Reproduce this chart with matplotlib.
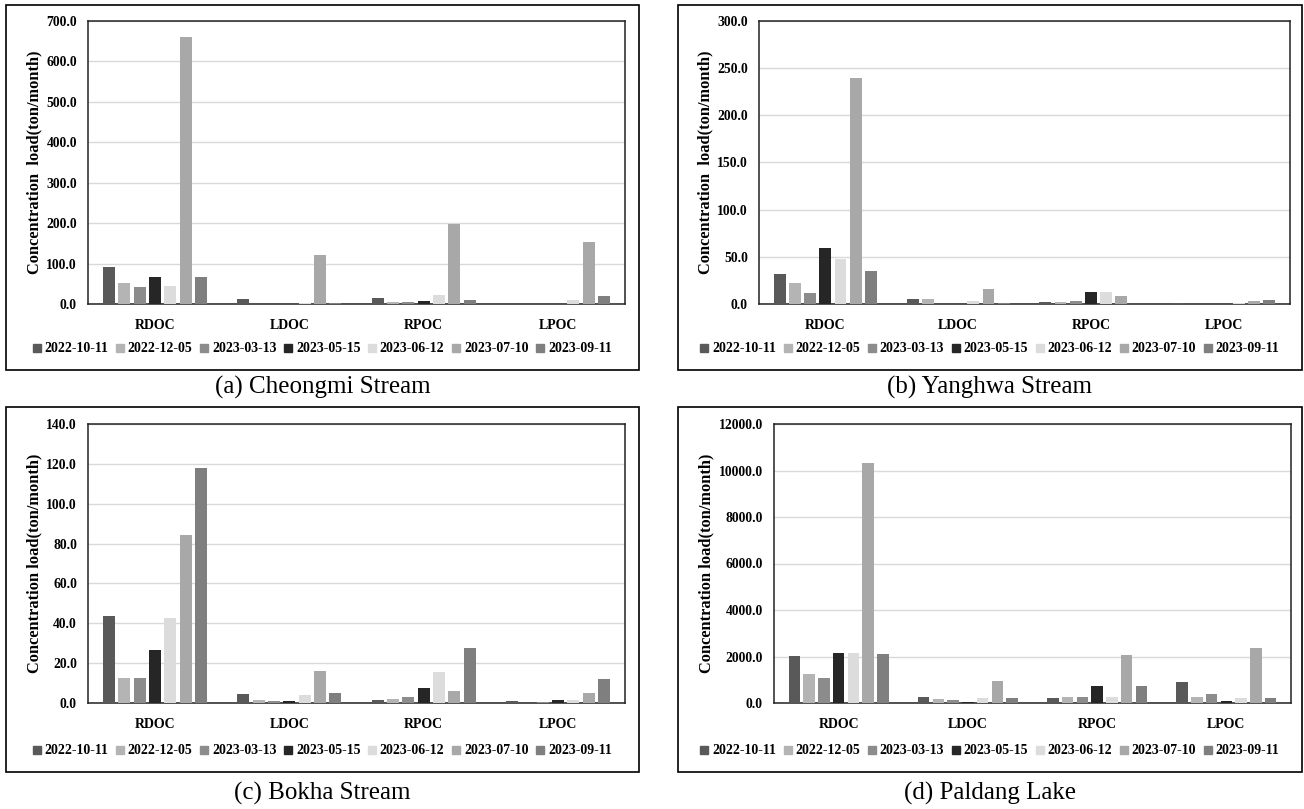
import numpy as np
import matplotlib
matplotlib.use("Agg")
import matplotlib.pyplot as plt
from matplotlib.patches import Rectangle
from matplotlib.lines import Line2D

plt.rcParams['font.family'] = ['Liberation Serif', 'DejaVu Serif']

W, H = 1304, 809

categories = ['RDOC', 'LDOC', 'RPOC', 'LPOC']
dates = ['2022-10-11', '2022-12-05', '2023-03-13', '2023-05-15',
         '2023-06-12', '2023-07-10', '2023-09-11']
colors = ['#595959', '#b4b4b4', '#8c8c8c', '#262626', '#dcdcdc', '#a8a8a8', '#7f7f7f']

# values[category][date]
cheongmi = [[92, 52, 42, 66, 45, 660, 67],
            [13, 0, 0, 0, 2, 122, 3],
            [16, 6, 5, 8, 23, 198, 11],
            [0, 0, 0, 0, 10, 153, 21]]
yanghwa = [[32, 22, 12, 59, 48, 240, 35],
           [5.5, 5.5, 0.5, 0.5, 3, 16, 1],
           [2, 2, 3, 12.5, 13, 9, 0.5],
           [1, 0.3, 0.3, 0.3, 1.5, 3, 4]]
bokha = [[43.5, 12.5, 12.5, 26.5, 42.5, 84.5, 118],
         [4.5, 1.5, 0.8, 1.2, 4.2, 16.2, 5],
         [1.5, 2, 2.8, 7.5, 15.5, 6, 27.5],
         [1.2, 0.2, 0.6, 1.5, 1.5, 5.2, 12.2]]
paldang = [[2030, 1250, 1070, 2130, 2150, 10330, 2100],
           [270, 190, 130, 50, 230, 950, 200],
           [230, 260, 260, 730, 260, 2060, 730],
           [910, 260, 390, 90, 230, 2350, 200]]

panels = [
    # data, ymax, ystep, axes px (l, r, t, b), box px (l, r, t, b), caption y px, caption, ylabel
    (cheongmi, 700, 100, (88, 625, 21, 304), (6, 639, 5, 370), 387, '(a) Cheongmi Stream',
     'Concentration  load(ton/month)'),
    (yanghwa, 300, 50, (759, 1290, 21, 304), (678, 1302, 5, 370), 387, '(b) Yanghwa Stream',
     'Concentration  load(ton/month)'),
    (bokha, 140, 20, (88, 625, 424, 703), (6, 639, 407, 772), 793, '(c) Bokha Stream',
     'Concentration load(ton/month)'),
    (paldang, 12000, 2000, (774, 1291, 424, 703), (678, 1302, 407, 772), 793, '(d) Paldang Lake',
     'Concentration load(ton/month)'),
]


def fx(x):
    return x / W


def fy(y):
    return 1 - y / H


fig = plt.figure(figsize=(W / 100, H / 100), dpi=100)

slot = 0.8 / len(dates)
width = slot * 0.78
x = np.arange(len(categories))

for data, ymax, ystep, (l, r, t, b), (bl, br, bt, bb), cy, caption, ylabel in panels:
    ax = fig.add_axes([fx(l), fy(b), fx(r - l), (b - t) / H])
    vals = np.array(data)
    for j, d in enumerate(dates):
        ax.bar(x - 0.4 + slot * (j + 0.5), vals[:, j], width, color=colors[j], zorder=3)
    ax.set_xlim(-0.5, len(categories) - 0.5)
    ax.set_ylim(0, ymax)
    ticks = np.arange(0, ymax + ystep / 2, ystep)
    ax.set_yticks(ticks)
    ax.set_yticklabels(['%.1f' % v for v in ticks], fontsize=9.8, fontweight='bold')
    ax.set_xticks(x)
    ax.set_xticklabels(categories, fontsize=10, fontweight='bold')
    ax.tick_params(length=0, pad=8)
    ax.tick_params(axis='x', pad=11)
    ax.grid(axis='y', color='#d9d9d9', lw=1, zorder=0)
    for s in ax.spines.values():
        s.set_color('#222222')
        s.set_linewidth(1.1)
    ax.set_ylabel(ylabel, fontsize=11.8, fontweight='bold', labelpad=3)

    # panel frame
    fig.add_artist(Rectangle((fx(bl), fy(bb)), fx(br - bl), (bb - bt) / H,
                             transform=fig.transFigure, fill=False,
                             edgecolor='black', lw=1.2))

    handles = [Line2D([], [], marker='s', ls='none', color=c, markersize=6) for c in colors]
    fig.legend(handles, dates, loc='center', ncol=7,
               bbox_to_anchor=(fx((bl + br) / 2), fy(bb - 21)),
               frameon=False, handlelength=0.5, handletextpad=0.3,
               columnspacing=0.6, prop={'size': 10, 'weight': 'bold'})

    fig.text(fx((bl + br) / 2), fy(cy), caption, ha='center', va='center', fontsize=18)

fig.savefig('out.png', dpi=100)
